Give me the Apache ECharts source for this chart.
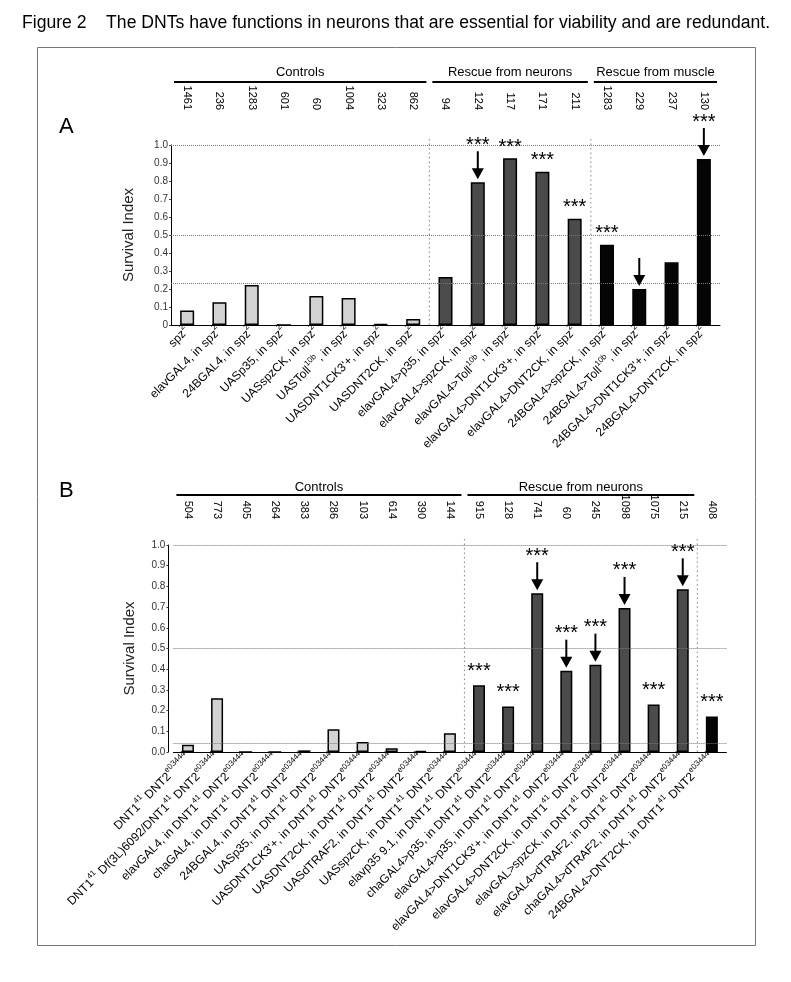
<!DOCTYPE html>
<html><head><meta charset="utf-8">
<script src="https://cdn.jsdelivr.net/npm/echarts@6/dist/echarts.min.js"></script>
<style>html,body{margin:0;padding:0;background:#fff}#c{width:791px;height:982px}</style>
</head><body><div id="c"></div>
<script>
// ---------- Panel A data ----------
const catsA = ['spz^2','elavGAL4, in spz^2','24BGAL4, in spz^2','UASp35, in spz^2','UASspzCK, in spz^2','UASToll^10b, in spz^2',"UASDNT1CK3'+, in spz^2",'UASDNT2CK, in spz^2','elavGAL4>p35, in spz^2','elavGAL4>spzCK, in spz^2','elavGAL4>Toll^10b, in spz^2',"elavGAL4>DNT1CK3'+, in spz^2",'elavGAL4>DNT2CK, in spz^2','24BGAL4>spzCK, in spz^2','24BGAL4>Toll^10b, in spz^2',"24BGAL4>DNT1CK3'+, in spz^2",'24BGAL4>DNT2CK, in spz^2'];
const nA = ['1461','236','1283','601','60','1004','323','862','94','124','117','171','211','1283','229','237','130'];
const valuesA = [0.08,0.126,0.222,0,0.161,0.15,0.006,0.033,0.267,0.793,0.926,0.852,0.59,0.446,0.2,0.348,0.922];
const groupA = [0,0,0,0,0,0,0,0,1,1,1,1,1,2,2,2,2];
const groupNamesA = ['Controls','Rescue from neurons','Rescue from muscle'];
const starsA  = [0,0,0,0,0,0,0,0,0,1,1,1,1,1,0,0,1];
const arrowsA = [0,0,0,0,0,0,0,0,0,1,0,0,0,0,1,0,1];
const refLinesA = [1.0,0.5,0.228];
const yTicksA = ['0','0.1','0.2','0.3','0.4','0.5','0.6','0.7','0.8','0.9','1.0'];

// ---------- Panel B data ----------
const catsB = ['DNT1^41 DNT2^e03444','DNT1^41 Df(3L)6092/DNT1^41 DNT2^e03444','elavGAL4, in DNT1^41 DNT2^e03444','chaGAL4, in DNT1^41 DNT2^e03444','24BGAL4, in DNT1^41 DNT2^e03444','UASp35, in DNT1^41 DNT2^e03444',"UASDNT1CK3'+, in DNT1^41 DNT2^e03444",'UASDNT2CK, in DNT1^41 DNT2^e03444','UASdTRAF2, in DNT1^41 DNT2^e03444','UASspzCK, in DNT1^41 DNT2^e03444','elavp35 9.1, in DNT1^41 DNT2^e03444','chaGAL4>p35, in DNT1^41 DNT2^e03444','elavGAL4>p35, in DNT1^41 DNT2^e03444',"elavGAL4>DNT1CK3'+, in DNT1^41 DNT2^e03444",'elavGAL4>DNT2CK, in DNT1^41 DNT2^e03444','elavGAL>spzCK, in DNT1^41 DNT2^e03444','elavGAL4>dTRAF2, in DNT1^41 DNT2^e03444','chaGAL4>dTRAF2, in DNT1^41 DNT2^e03444','24BGAL4>DNT2CK, in DNT1^41 DNT2^e03444'];
const nB = ['504','773','405','264','383','286','103','614','390','144','915','128','741','60','245','1098','1075','215','408'];
const valuesB = [0.035,0.26,0,0,0.008,0.11,0.048,0.018,0.006,0.09,0.322,0.22,0.767,0.393,0.422,0.696,0.23,0.786,0.171];
const groupB = [0,0,0,0,0,0,0,0,0,0,1,1,1,1,1,1,1,1,2];
const groupNamesB = ['Controls','Rescue from neurons',''];
const starsB  = [0,0,0,0,0,0,0,0,0,0,1,1,1,1,1,1,1,1,1];
const arrowsB = [0,0,0,0,0,0,0,0,0,0,0,0,1,1,1,1,0,1,0];
const refLinesB = [1.0,0.5,0.035];
const yTicksB = ['0.0','0.1','0.2','0.3','0.4','0.5','0.6','0.7','0.8','0.9','1.0'];

const TITLE = 'Figure 2    The DNTs have functions in neurons that are essential for viability and are redundant.';

// ---------- styles ----------
const FONT = '"Liberation Sans", Arial, sans-serif';
const groupColors = ['#d2d2d2','#4b4b4b','#050505'];

function richify(s){ return s.replace(/\^([^\s,]+)/g, '{s|$1}'); }

function annotRender(gap){
  return function(params, api){
    const idx = api.value(0), v = api.value(1), st = api.value(2), ar = api.value(3);
    const p = api.coord([idx, v]);
    const x = p[0]; let top = p[1];
    const ch = [];
    if (ar) {
      const tip = top - 3, headH = 11, len = 28;
      ch.push({type:'line', shape:{x1:x,y1:tip-len,x2:x,y2:tip-headH+1}, style:{stroke:'#000', lineWidth:2}});
      ch.push({type:'polygon', shape:{points:[[x-6,tip-headH],[x+6,tip-headH],[x,tip]]}, style:{fill:'#000'}});
      top = tip - len;
    }
    if (st) ch.push({type:'text', style:{text:'***', x:x, y: top - (ar ? 6 : gap), align:'center', verticalAlign:'middle', font:'20px ' + FONT, fill:'#000'}});
    return {type:'group', children: ch};
  };
}

function xCatAxis(grid, cats){
  return {type:'category', gridIndex:grid, data:cats,
    axisLine:{lineStyle:{color:'#000', width:1}},
    axisTick:{inside:true, length:3, lineStyle:{color:'#555'}},
    axisLabel:{interval:0, rotate:45, fontSize:12, fontFamily:FONT, lineHeight:18, color:'#000', margin:4,
      formatter: richify, rich:{s:{fontSize:8, lineHeight:8, verticalAlign:'top', fontFamily:FONT, color:'#000'}}}};
}
function xNumAxis(grid, nums, off){
  return {type:'category', gridIndex:grid, position:'top', offset:off, data:nums,
    axisLine:{show:false}, axisTick:{show:false}, splitLine:{show:false},
    axisLabel:{interval:0, rotate:90, fontSize:11, fontFamily:FONT, color:'#000', margin:5}};
}
function yAx(grid, ticks, off, gap){
  return {type:'value', gridIndex:grid, min:0, max:1, interval:0.1, offset:off,
    name:'Survival Index', nameLocation:'middle', nameRotate:90, nameGap:gap,
    nameTextStyle:{fontSize:15, fontFamily:FONT, color:'#222'},
    axisLine:{show:true, lineStyle:{color:'#000', width:1}},
    axisTick:{show:true, length:2, lineStyle:{color:'#444'}},
    splitLine:{show:false},
    axisLabel:{fontSize:10, fontFamily:FONT, color:'#333', margin:3,
      formatter: (v) => ticks[Math.round(v*10)]}};
}
function barSeries(xi, yi, vals, groups, refs, bw){
  return {type:'bar', xAxisIndex:xi, yAxisIndex:yi, barWidth:bw,
    data: vals.map((v,i)=>({value:v, itemStyle:{color:groupColors[groups[i]]}})),
    itemStyle:{borderColor:'#000', borderWidth:1.5},
    markLine:{silent:true, symbol:'none', label:{show:false},
      lineStyle:{type:'dotted', color:'#777', width:1},
      data: refs.map(r=>({yAxis:r}))}};
}
function annotSeries(xi, yi, vals, stars, arrows, gap){
  return {type:'custom', xAxisIndex:xi, yAxisIndex:yi, renderItem: annotRender(gap), silent:true, z:10,
    data: vals.map((v,i)=>[i, v, stars[i], arrows[i]])};
}

const chart = echarts.init(document.getElementById('c'), null, {renderer:'canvas'});
chart.setOption({
  animation:false,
  backgroundColor:'#fff',
  title:{text:TITLE, left:17, top:9, textStyle:{fontSize:17.6, fontWeight:'normal', color:'#000', fontFamily:FONT}},
  grid:[
    {left:171, top:145, width:549, height:180, outerBoundsMode:'none'},
    {left:173.4, top:545, width:553, height:207, outerBoundsMode:'none'}
  ],
  xAxis:[ xCatAxis(0, catsA), xNumAxis(0, nA, 30), xCatAxis(1, catsB), xNumAxis(1, nB, 21) ],
  yAxis:[ yAx(0, yTicksA, 0, 35), yAx(1, yTicksB, 5, 31) ],
  series:[
    barSeries(0, 0, valuesA, groupA, refLinesA, 14),
    annotSeries(0, 0, valuesA, starsA, arrowsA, 11),
    barSeries(2, 1, valuesB, groupB, refLinesB, 12),
    annotSeries(2, 1, valuesB, starsB, arrowsB, 14)
  ]
});

// ---------- group headers and separators (positions from axis scales) ----------
function decor(xi, yi, groups, names, lineUp, textUp){
  const g = [];
  const cx = i => chart.convertToPixel({xAxisIndex:xi}, i);
  const bw = cx(1) - cx(0);
  const yTop = chart.convertToPixel({yAxisIndex:yi}, 1);
  const y0 = chart.convertToPixel({yAxisIndex:yi}, 0);
  let start = 0;
  for (let i = 1; i <= groups.length; i++) {
    if (i === groups.length || groups[i] !== groups[i-1]) {
      const name = names[groups[start]];
      if (name) {
        const x1 = cx(start) - bw/2 + 3, x2 = cx(i-1) + bw/2 - 3;
        g.push({type:'line', shape:{x1:x1, y1:yTop-lineUp, x2:x2, y2:yTop-lineUp}, style:{stroke:'#000', lineWidth:2}});
        g.push({type:'text', style:{text:name, x:(x1+x2)/2, y:yTop-textUp, align:'center', verticalAlign:'middle', font:'13px ' + FONT, fill:'#000'}});
      }
      if (i < groups.length) {
        const xs = (cx(i-1) + cx(i)) / 2;
        g.push({type:'line', shape:{x1:xs, y1:yTop-6, x2:xs, y2:y0}, style:{stroke:'#888', lineWidth:1, lineDash:[1.5,3]}});
      }
      start = i;
    }
  }
  return g;
}
const gfx = [
  {type:'rect', shape:{x:37.5, y:47.5, width:718, height:898}, style:{fill:'none', stroke:'#777', lineWidth:1}},
  {type:'text', style:{text:'A', x:59, y:127, verticalAlign:'middle', font:'22px ' + FONT, fill:'#000'}},
  {type:'text', style:{text:'B', x:59, y:491, verticalAlign:'middle', font:'22px ' + FONT, fill:'#000'}}
].concat(decor(0, 0, groupA, groupNamesA, 63, 73)).concat(decor(2, 1, groupB, groupNamesB, 50, 58));
chart.setOption({graphic: gfx.map(e => Object.assign({silent:true}, e))});
</script></body></html>
